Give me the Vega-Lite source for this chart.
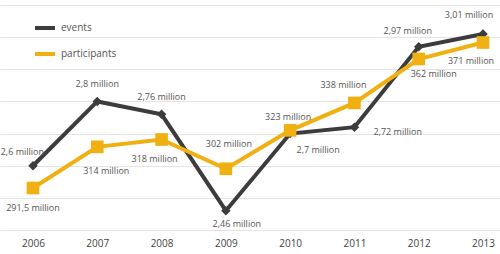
{
  "$schema": "https://vega.github.io/schema/vega-lite/v6.json",
  "autosize": {"type": "none"},
  "width": 500,
  "height": 230,
  "padding": {"left": 0, "top": 0, "right": 0, "bottom": 24},
  "background": "white",
  "config": {
    "view": {"stroke": null},
    "font": "Open Sans",
    "text": {"fontSize": 9, "color": "#555555", "font": "Open Sans"}
  },
  "data": {
    "values": [
      {"year": 2006, "series": "events", "value": 2.6, "label": "2,6 million"},
      {"year": 2007, "series": "events", "value": 2.8, "label": "2,8 million"},
      {"year": 2008, "series": "events", "value": 2.76, "label": "2,76 million"},
      {"year": 2009, "series": "events", "value": 2.46, "label": "2,46 million"},
      {"year": 2010, "series": "events", "value": 2.7, "label": "2,7 million"},
      {"year": 2011, "series": "events", "value": 2.72, "label": "2,72 million"},
      {"year": 2012, "series": "events", "value": 2.97, "label": "2,97 million"},
      {"year": 2013, "series": "events", "value": 3.01, "label": "3,01 million"},
      {"year": 2006, "series": "participants", "value": 291.5, "label": "291,5 million"},
      {"year": 2007, "series": "participants", "value": 314, "label": "314 million"},
      {"year": 2008, "series": "participants", "value": 318, "label": "318 million"},
      {"year": 2009, "series": "participants", "value": 302, "label": "302 million"},
      {"year": 2010, "series": "participants", "value": 323, "label": "323 million"},
      {"year": 2011, "series": "participants", "value": 338, "label": "338 million"},
      {"year": 2012, "series": "participants", "value": 362, "label": "362 million"},
      {"year": 2013, "series": "participants", "value": 371, "label": "371 million"}
    ]
  },
  "encoding": {
    "x": {
      "field": "year", "type": "quantitative",
      "scale": {"domain": [2005.487, 2013.264], "nice": false, "zero": false},
      "axis": {
        "values": [2006, 2007, 2008, 2009, 2010, 2011, 2012, 2013],
        "format": "d", "title": null, "grid": false, "ticks": false, "domain": false,
        "labelFontSize": 10, "labelColor": "#444444", "labelPadding": 8, "labelFont": "Open Sans"
      }
    }
  },
  "layer": [
    {
      "transform": [{"filter": "datum.series === 'events'"}],
      "encoding": {
        "y": {
          "field": "value", "type": "quantitative",
          "scale": {"domain": [2.4, 3.1156], "nice": false, "zero": false},
          "axis": {
            "values": [2.4, 2.5, 2.6, 2.7, 2.8, 2.9, 3.0, 3.1],
            "grid": true, "gridColor": "#e4e4e4", "gridWidth": 1,
            "labels": false, "ticks": false, "domain": false, "title": null
          }
        }
      },
      "layer": [
        {
          "mark": {"type": "line", "strokeWidth": 4},
          "encoding": {
            "color": {
              "field": "series", "type": "nominal",
              "scale": {"domain": ["events", "participants"], "range": ["#3c3c3c", "#f0b012"]},
              "legend": {
                "title": null, "orient": "none", "legendX": 33, "legendY": 16,
                "symbolType": "stroke", "symbolStrokeWidth": 4, "symbolSize": 400,
                "labelFontSize": 10, "labelColor": "#555555", "labelFont": "Open Sans",
                "rowPadding": 6, "labelOffset": 4
              }
            }
          }
        },
        {"mark": {"type": "point", "shape": "diamond", "filled": true, "size": 90, "color": "#3c3c3c", "opacity": 1}},
        {"transform": [{"filter": "datum.year == 2006"}], "mark": {"type": "text", "align": "right", "dx": 11, "dy": -14}, "encoding": {"text": {"field": "label"}}},
        {"transform": [{"filter": "datum.year == 2007 || datum.year == 2008"}], "mark": {"type": "text", "dx": 0, "dy": -17}, "encoding": {"text": {"field": "label"}}},
        {"transform": [{"filter": "datum.year == 2009"}], "mark": {"type": "text", "dx": 11, "dy": 13}, "encoding": {"text": {"field": "label"}}},
        {"transform": [{"filter": "datum.year == 2010"}], "mark": {"type": "text", "dx": 28, "dy": 16}, "encoding": {"text": {"field": "label"}}},
        {"transform": [{"filter": "datum.year == 2011"}], "mark": {"type": "text", "align": "left", "dx": 19, "dy": 5}, "encoding": {"text": {"field": "label"}}},
        {"transform": [{"filter": "datum.year == 2012"}], "mark": {"type": "text", "dx": -11, "dy": -16}, "encoding": {"text": {"field": "label"}}},
        {"transform": [{"filter": "datum.year == 2013"}], "mark": {"type": "text", "dx": -14, "dy": -19}, "encoding": {"text": {"field": "label"}}}
      ]
    },
    {
      "transform": [{"filter": "datum.series === 'participants'"}],
      "encoding": {
        "y": {
          "field": "value", "type": "quantitative",
          "scale": {"domain": [268.55, 394.23], "nice": false, "zero": false},
          "axis": null
        }
      },
      "layer": [
        {
          "mark": {"type": "line", "strokeWidth": 4},
          "encoding": {"color": {"field": "series", "type": "nominal"}}
        },
        {"mark": {"type": "square", "filled": true, "size": 160, "color": "#f0b012", "opacity": 1}},
        {"transform": [{"filter": "datum.year == 2006"}], "mark": {"type": "text", "dx": 0, "dy": 20}, "encoding": {"text": {"field": "label"}}},
        {"transform": [{"filter": "datum.year == 2007"}], "mark": {"type": "text", "dx": 9, "dy": 24}, "encoding": {"text": {"field": "label"}}},
        {"transform": [{"filter": "datum.year == 2008"}], "mark": {"type": "text", "dx": -7, "dy": 19}, "encoding": {"text": {"field": "label"}}},
        {"transform": [{"filter": "datum.year == 2009"}], "mark": {"type": "text", "dx": 3, "dy": -25}, "encoding": {"text": {"field": "label"}}},
        {"transform": [{"filter": "datum.year == 2010"}], "mark": {"type": "text", "dx": -2, "dy": -13}, "encoding": {"text": {"field": "label"}}},
        {"transform": [{"filter": "datum.year == 2011"}], "mark": {"type": "text", "dx": -11, "dy": -18}, "encoding": {"text": {"field": "label"}}},
        {"transform": [{"filter": "datum.year == 2012"}], "mark": {"type": "text", "dx": 15, "dy": 15}, "encoding": {"text": {"field": "label"}}},
        {"transform": [{"filter": "datum.year == 2013"}], "mark": {"type": "text", "dx": -12, "dy": 18}, "encoding": {"text": {"field": "label"}}}
      ]
    }
  ],
  "resolve": {"scale": {"y": "independent"}}
}
